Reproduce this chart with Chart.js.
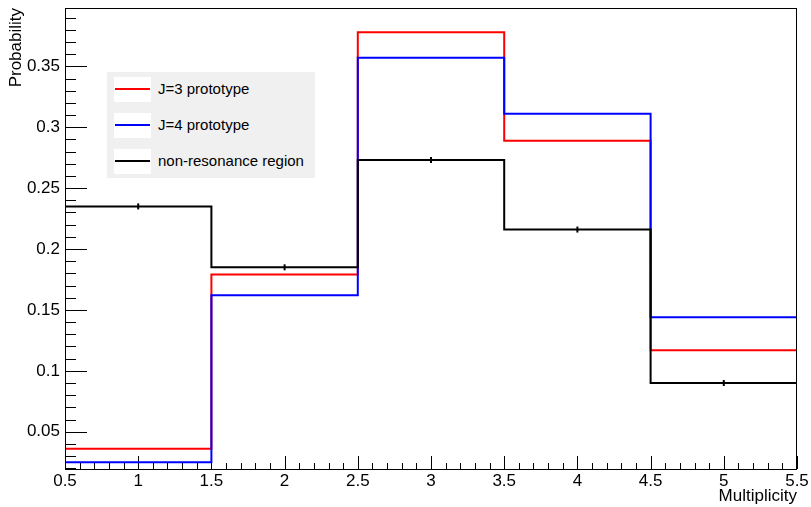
<!DOCTYPE html>
<html>
<head>
<meta charset="utf-8">
<script src="https://cdn.jsdelivr.net/npm/chart.js@4/dist/chart.umd.min.js"></script>
<style>
  body { margin: 0; background: #fff; }
  #wrap { position: relative; width: 811px; height: 507px; }
  #legend {
    position: absolute; left: 107px; top: 72px; width: 208px; height: 106px;
    background: #f0f0f0; font-family: "Liberation Sans", Arial, sans-serif; font-size: 15px; color: #000;
  }
  .row { position: absolute; left: 7px; height: 25px; width: 200px; }
  .sw { position: absolute; left: 0; top: 0; width: 37px; height: 25px; background: #fff; }
  .sw i { position: absolute; left: 1px; right: 1px; top: 11px; height: 2px; }
  .row span { position: absolute; left: 44px; top: 3px; white-space: nowrap; }
</style>
</head>
<body>
<div id="wrap">
  <canvas id="myChart" width="811" height="507"></canvas>
  <div id="legend"></div>
</div>
<script>
// bin edges and tick labels
var binEdges = [0.5, 1.5, 2.5, 3.5, 4.5, 5.5];
var xTicks = [0.5, 1, 1.5, 2, 2.5, 3, 3.5, 4, 4.5, 5, 5.5];
var yTicks = [0.05, 0.1, 0.15, 0.2, 0.25, 0.3, 0.35];

// probabilities per multiplicity bin
var j3Values = [0.036, 0.179, 0.378, 0.289, 0.117];
var j4Values = [0.025, 0.162, 0.357, 0.311, 0.144];
var nonResValues = [0.235, 0.185, 0.273, 0.216, 0.090];
var binCenters = [1, 2, 3, 4, 5];

var seriesNames = ["J=3 prototype", "J=4 prototype", "non-resonance region"];
var seriesColors = ["#ff0000", "#0000ff", "#000000"];

function histPoints(vals) {
    var pts = [];
    for (var i = 0; i < vals.length; i++) {
        pts.push({ x: binEdges[i], y: vals[i] });
    }
    pts.push({ x: binEdges[binEdges.length - 1], y: vals[vals.length - 1] });
    return pts;
}

// legend drawn as html over the plot
var legendHtml = "";
for (var i = 0; i < seriesNames.length; i++) {
    legendHtml += '<div class="row" style="top:' + (5 + i * 36) + 'px"><div class="sw"><i style="background:' +
        seriesColors[i] + '"></i></div><span>' + seriesNames[i] + '</span></div>';
}
document.getElementById('legend').innerHTML = legendHtml;

// ROOT style ticks inside the frame
var rootAxes = {
    id: 'rootAxes',
    beforeDatasetsDraw: function (chart) {
        var ctx = chart.ctx, a = chart.chartArea, x = chart.scales.x, y = chart.scales.y;
        ctx.save();
        ctx.strokeStyle = '#000';
        ctx.lineWidth = 1;
        ctx.beginPath();
        for (var i = 0; i < xTicks.length; i++) {
            var px = Math.round(x.getPixelForValue(xTicks[i])) + 0.5;
            ctx.moveTo(px, a.bottom); ctx.lineTo(px, a.bottom - 13);
            if (i < xTicks.length - 1) {
                var step = (xTicks[i + 1] - xTicks[i]) / 5;
                for (var k = 1; k < 5; k++) {
                    var mx = Math.round(x.getPixelForValue(xTicks[i] + k * step)) + 0.5;
                    ctx.moveTo(mx, a.bottom); ctx.lineTo(mx, a.bottom - 6);
                }
            }
        }
        var ystep = (yTicks[1] - yTicks[0]) / 5;
        for (var v = yTicks[0] - 3 * ystep; v < y.max; v += ystep) {
            var py = Math.round(y.getPixelForValue(v)) + 0.5;
            var major = Math.abs(Math.round(v / (yTicks[1] - yTicks[0])) * (yTicks[1] - yTicks[0]) - v) < 1e-6;
            ctx.moveTo(a.left, py); ctx.lineTo(a.left + (major ? 22 : 11), py);
        }
        ctx.stroke();
        ctx.restore();
    },
    afterDraw: function (chart) {
        var ctx = chart.ctx, a = chart.chartArea;
        ctx.save();
        ctx.strokeStyle = '#000';
        ctx.lineWidth = 1;
        ctx.strokeRect(a.left + 0.5, a.top + 0.5, a.right - a.left - 1, a.bottom - a.top);
        ctx.restore();
    }
};

var ctx = document.getElementById('myChart');
var myChart = new Chart(ctx, {
    type: 'line',
    data: {
        datasets: [{
            label: seriesNames[0],
            data: histPoints(j3Values),
            borderColor: seriesColors[0],
            borderWidth: 2,
            stepped: true,
            pointRadius: 0,
            order: 3
        }, {
            label: seriesNames[1],
            data: histPoints(j4Values),
            borderColor: seriesColors[1],
            borderWidth: 2,
            stepped: true,
            pointRadius: 0,
            order: 2
        }, {
            label: seriesNames[2],
            data: histPoints(nonResValues),
            borderColor: seriesColors[2],
            borderWidth: 2,
            stepped: true,
            pointRadius: 0,
            order: 1
        }, {
            label: 'errors',
            data: binCenters.map(function (c, i) { return { x: c, y: nonResValues[i] }; }),
            showLine: false,
            pointStyle: 'line',
            rotation: 90,
            pointRadius: 3,
            borderColor: '#000',
            borderWidth: 2,
            order: 0
        }]
    },
    options: {
        responsive: false,
        animation: false,
        layout: { padding: { top: 0, right: 14, left: 0, bottom: 0 } },
        plugins: { legend: { display: false }, tooltip: { enabled: false } },
        scales: {
            x: {
                type: 'linear',
                min: 0.5,
                max: 5.5,
                grid: { display: false, drawTicks: false, tickLength: 0 },
                border: { display: false },
                afterBuildTicks: function (scale) { scale.ticks = xTicks.map(function (v) { return { value: v }; }); },
                afterFit: function (scale) { scale.height = 38; },
                ticks: {
                    padding: 2,
                    maxRotation: 0,
                    autoSkip: false,
                    color: '#000',
                    font: { family: 'Liberation Sans', size: 17 },
                    callback: function (v) { return String(v); }
                },
                title: {
                    display: true,
                    text: 'Multiplicity',
                    align: 'end',
                    color: '#000',
                    padding: { top: 0, bottom: 0 },
                    font: { family: 'Liberation Sans', size: 17 }
                }
            },
            y: {
                type: 'linear',
                min: 0.0194,
                max: 0.3979,
                grid: { display: false, drawTicks: false, tickLength: 0 },
                border: { display: false },
                afterBuildTicks: function (scale) { scale.ticks = yTicks.map(function (v) { return { value: v }; }); },
                afterFit: function (scale) {
                    scale.width = 65;
                    scale.paddingTop = 8;
                    scale.paddingBottom = 0;
                },
                ticks: {
                    padding: 5,
                    autoSkip: false,
                    color: '#000',
                    font: { family: 'Liberation Sans', size: 17 },
                    callback: function (v) { return String(v); }
                },
                title: {
                    display: true,
                    text: 'Probability',
                    align: 'end',
                    color: '#000',
                    padding: { top: 6, bottom: 0 },
                    font: { family: 'Liberation Sans', size: 17 }
                }
            }
        }
    },
    plugins: [rootAxes]
});
</script>
</body>
</html>
